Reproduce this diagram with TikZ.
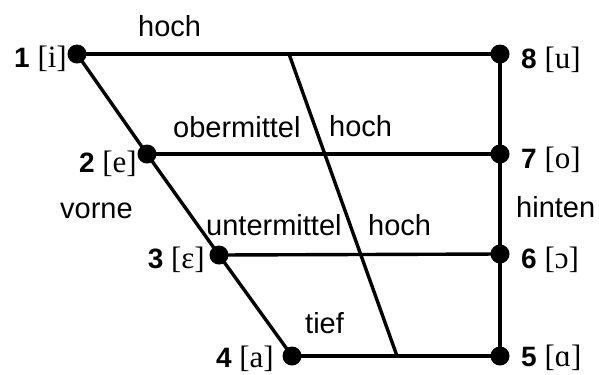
\documentclass[tikz,border=0pt]{standalone}
\usepackage{fontspec}
\setmainfont{Liberation Sans}
\newfontfamily\ipafont{Liberation Serif}
\newcommand\wordfont{\fontsize{29bp}{34bp}\selectfont}
\newcommand\vowlab[2]{\fontsize{28bp}{31bp}\selectfont\textbf{#1} {\ipafont\fontsize{31bp}{34bp}\selectfont[#2]}}
\tikzset{
  vdot/.style={circle, fill=black, inner sep=0pt, minimum size=19bp},
  ln/.style={line width=3.4bp, black},
  word/.style={font=\wordfont, inner sep=0pt, anchor=base west},
  labl/.style={inner sep=0pt, anchor=base east},
  labr/.style={inner sep=0pt, anchor=base west}
}
\begin{document}
\begin{tikzpicture}[x=1bp,y=-1bp]
\useasboundingbox (0,0) rectangle (599,374);
% dots
\node[vdot] (d1) at (77,54) {};
\node[vdot] (d2) at (147,154) {};
\node[vdot] (d3) at (219,255) {};
\node[vdot] (d4) at (292,356) {};
\node[vdot] (d5) at (500,356) {};
\node[vdot] (d6) at (500,254) {};
\node[vdot] (d7) at (500,154) {};
\node[vdot] (d8) at (500,54) {};
\coordinate (dt) at (289,54);
\coordinate (db) at (397,356);
% lines
\draw[ln] (d1.center) -- (d8.center);
\draw[ln] (d2.center) -- (d7.center);
\draw[ln] (d3.center) -- (d6.center);
\draw[ln] (d4.center) -- (d5.center);
\draw[ln] (d1.center) -- (d2.center) -- (d3.center) -- (d4.center);
\draw[ln] (d8.center) -- (d7.center) -- (d6.center) -- (d5.center);
\draw[ln] (dt) -- (db);
% words
\node[word] (w1) at (138,36) {hoch};
\node[word] (w2) at (173,137) {obermittel};
\node[word] (w3) at (329,136) {hoch};
\node[word] (w4) at (60,218) {vorne};
\node[word] (w5) at (206,235) {untermittel};
\node[word] (w6) at (368,235) {hoch};
\node[word] (w7) at (516,217) {hinten};
\node[word] (w8) at (305,333) {tief};
% vowel labels
\node[labl] (l1) at (67,67) {\vowlab{1}{i}};
\node[labl] (l2) at (137,172) {\vowlab{2}{e}};
\node[labl] (l3) at (205,268) {\vowlab{3}{ɛ}};
\node[labl] (l4) at (274,367) {\vowlab{4}{a}};
\node[labr] (l8) at (521,68) {\vowlab{8}{u}};
\node[labr] (l7) at (521,168) {\vowlab{7}{o}};
\node[labr] (l6) at (521,268) {\vowlab{6}{ɔ}};
\node[labr] (l5) at (521,366) {\vowlab{5}{ɑ}};
\end{tikzpicture}
\end{document}
